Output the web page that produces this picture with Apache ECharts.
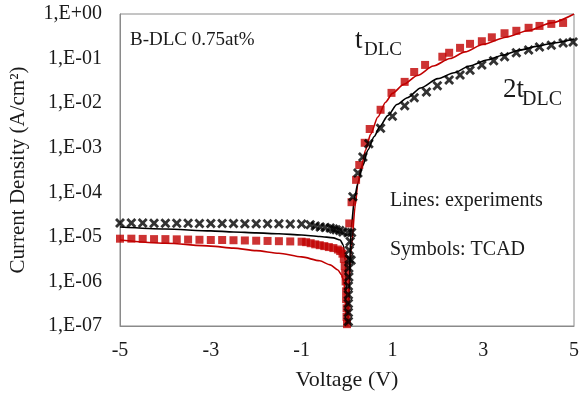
<!DOCTYPE html>
<html>
<head>
<meta charset="utf-8">
<script src="https://cdn.jsdelivr.net/npm/echarts@6/dist/echarts.min.js"></script>
<style>html,body{margin:0;padding:0;background:#fff}#c{width:582px;height:397px}</style>
</head>
<body>
<div id="c"></div>
<script>
// x tick labels shown
const xTickLabels = [-5, -3, -1, 1, 3, 5];

// Experiment t_DLC (red line)
const redLineV = [-5.0, -4.0, -3.0, -2.5, -2.0, -1.5, -1.0, -0.6, -0.37, -0.2, -0.12, -0.07, -0.04, -0.025,
  0.0, 0.1, 0.18, 0.24, 0.31, 0.41, 0.52, 0.68, 0.85, 1.0, 1.25, 1.55, 1.9, 2.27, 2.6, 3.0, 3.5, 4.0, 4.5, 5.0];
const redLineJ = [8.5e-6, 7.2e-6, 6.2e-6, 5.6e-6, 4.9e-6, 4.3e-6, 3.55e-6, 2.9e-6, 2.35e-6, 1.8e-6, 1.4e-6, 1.0e-6, 5e-7, 1e-7,
  1e-7, 6.3e-6, 5e-5, 1.6e-4, 3.5e-4, 8.9e-4, 2.0e-3, 4.9e-3, 1.05e-2, 1.66e-2, 2.63e-2, 4.17e-2, 6.8e-2, 0.1, 0.141, 0.209, 0.302, 0.427, 0.631, 1.0];

// Experiment 2t_DLC (black line)
const blackLineV = [-5.0, -4.0, -3.0, -2.5, -2.0, -1.5, -1.0, -0.6, -0.3, -0.15, -0.08, -0.04, -0.01,
  0.02, 0.09, 0.17, 0.24, 0.35, 0.46, 0.6, 0.72, 0.9, 1.1, 1.33, 1.62, 2.0, 2.36, 2.7, 3.08, 3.45, 3.8, 4.2, 4.54, 5.0];
const blackLineJ = [1.66e-5, 1.5e-5, 1.36e-5, 1.29e-5, 1.23e-5, 1.17e-5, 1.1e-5, 1.02e-5, 9.5e-6, 8.5e-6, 6.5e-6, 3e-6, 5e-7,
  1e-7, 1.6e-5, 7.9e-5, 1.62e-4, 4e-4, 8.9e-4, 1.78e-3, 2.95e-3, 5.25e-3, 9.3e-3, 1.32e-2, 2.19e-2, 3.55e-2, 4.8e-2, 6.8e-2, 9.3e-2, 0.12, 0.155, 0.19, 0.224, 0.275];

// TCAD t_DLC (red squares)
const redSymV = [-5.0, -4.75, -4.5, -4.25, -4.0, -3.75, -3.5, -3.25, -3.0, -2.75, -2.5, -2.25, -2.0, -1.75, -1.5, -1.25, -1.0,
  -0.9, -0.8, -0.7, -0.6, -0.5, -0.4, -0.3, -0.2, -0.15, -0.1, -0.07, -0.05, -0.04, -0.03, -0.02, -0.02, -0.01, -0.01, 0.0,
  0.05, 0.1, 0.2, 0.27, 0.39, 0.5, 0.74, 0.98, 1.27, 1.48, 1.72, 2.1, 2.25, 2.49, 2.71, 2.97, 3.19, 3.47, 3.73, 4.0, 4.24, 4.5, 4.76];
const redSymJ = [9.1e-6, 9.1e-6, 9.0e-6, 8.9e-6, 8.9e-6, 8.8e-6, 8.7e-6, 8.6e-6, 8.5e-6, 8.5e-6, 8.4e-6, 8.3e-6, 8.2e-6, 8.1e-6, 8.0e-6, 7.9e-6, 7.8e-6,
  7.6e-6, 7.2e-6, 6.8e-6, 6.5e-6, 6.2e-6, 5.9e-6, 5.6e-6, 5.2e-6, 4.8e-6, 4.2e-6, 3.2e-6, 2.2e-6, 1.5e-6, 1e-6, 6e-7, 4e-7, 2.5e-7, 1.6e-7, 1.1e-7,
  2e-5, 6e-5, 1.9e-4, 4.1e-4, 1.29e-3, 2.63e-3, 7.1e-3, 1.7e-2, 3.0e-2, 5.0e-2, 7.2e-2, 0.11, 0.135, 0.174, 0.214, 0.245, 0.30, 0.37, 0.42, 0.49, 0.54, 0.60, 0.63];

// TCAD 2t_DLC (black crosses)
const blackSymV = [-5.0, -4.75, -4.5, -4.25, -4.0, -3.75, -3.5, -3.25, -3.0, -2.75, -2.5, -2.25, -2.0, -1.75, -1.5, -1.25, -1.0,
  -0.81, -0.7, -0.59, -0.48, -0.37, -0.3, -0.24, -0.16, -0.09, 0.02,
  0.1, 0.09, 0.07, 0.05, 0.05, 0.04, 0.04, 0.03, 0.03, 0.03, 0.03, 0.03,
  0.13, 0.24, 0.35, 0.48, 0.74, 1.0, 1.27, 1.48, 1.75, 1.99, 2.25, 2.49, 2.71, 2.97, 3.23, 3.47, 3.73, 4.0, 4.24, 4.5, 4.76, 4.98];
const blackSymJ = [2.05e-5, 2.05e-5, 2.04e-5, 2.03e-5, 2.02e-5, 2.02e-5, 2.01e-5, 2.0e-5, 2.0e-5, 2.0e-5, 1.99e-5, 1.98e-5, 1.98e-5, 1.97e-5, 1.96e-5, 1.95e-5, 1.95e-5,
  1.86e-5, 1.75e-5, 1.66e-5, 1.62e-5, 1.58e-5, 1.5e-5, 1.45e-5, 1.38e-5, 1.29e-5, 1.23e-5,
  1.26e-5, 3e-6, 7.9e-6, 5e-6, 3.2e-6, 2e-6, 1.26e-6, 7.9e-7, 5e-7, 3.2e-7, 2e-7, 1.26e-7,
  7.9e-5, 2.7e-4, 6.2e-4, 1.23e-3, 2.75e-3, 5.1e-3, 8.7e-3, 1.32e-2, 1.78e-2, 2.45e-2, 3.3e-2, 4.3e-2, 5.5e-2, 7.2e-2, 8.9e-2, 0.11, 0.135, 0.155, 0.182, 0.2, 0.224, 0.234];

const zip = (a, b) => a.map((v, i) => [v, b[i]]);
const FONT = '"Liberation Serif", "Times New Roman", serif';
const RED = '#c00000';
const crossPath = 'path://M0,2 L2,0 L5,3 L8,0 L10,2 L7,5 L10,8 L8,10 L5,7 L2,10 L0,8 L3,5 Z';

const chart = echarts.init(document.getElementById('c'), null, {renderer: 'canvas'});
chart.setOption({
  animation: false,
  backgroundColor: '#fff',
  grid: {left: 120, right: 4, top: 14, bottom: 71, show: true, borderColor: '#8a8a8a', borderWidth: 1},
  xAxis: {
    type: 'value', min: -5, max: 5, interval: 1,
    name: 'Voltage (V)', nameLocation: 'middle', nameGap: 43,
    nameTextStyle: {fontFamily: FONT, fontSize: 22, color: '#1a1a1a'},
    axisLine: {show: true, onZero: false, lineStyle: {color: '#8a8a8a'}},
    axisTick: {show: false}, splitLine: {show: false},
    axisLabel: {
      fontFamily: FONT, fontSize: 20, color: '#1a1a1a', margin: 15,
      formatter: v => xTickLabels.indexOf(Math.round(v)) >= 0 && Math.abs(v - Math.round(v)) < 1e-9 ? String(Math.round(v)) : ''
    }
  },
  yAxis: {
    type: 'log', logBase: 10, min: 1e-7, max: 1,
    name: 'Current Density (A/cm\u00b2)', nameLocation: 'middle', nameGap: 91,
    nameTextStyle: {fontFamily: FONT, fontSize: 21, color: '#1a1a1a'},
    axisLine: {show: true, onZero: false, lineStyle: {color: '#8a8a8a'}},
    axisTick: {show: false}, splitLine: {show: false}, minorTick: {show: false},
    axisLabel: {
      fontFamily: FONT, fontSize: 20, color: '#1a1a1a', margin: 18,
      formatter: v => {
        const e = Math.round(Math.log10(v));
        const a = Math.abs(e);
        return '1,E' + (e >= 0 ? '+' : '-') + (a < 10 ? '0' : '') + a;
      }
    }
  },
  series: [
    {type: 'line', data: zip(redLineV, redLineJ), showSymbol: false, smooth: 0.25, smoothMonotone: 'x',
      lineStyle: {color: RED, width: 1.6}, z: 2},
    {type: 'line', data: zip(blackLineV, blackLineJ), showSymbol: false, smooth: 0.25, smoothMonotone: 'x',
      lineStyle: {color: '#000', width: 1.6}, z: 2},
    {type: 'scatter', data: zip(redSymV, redSymJ), symbol: 'rect', symbolSize: 8,
      itemStyle: {color: RED}, z: 3},
    {type: 'scatter', data: zip(blackSymV, blackSymJ), symbol: crossPath, symbolSize: 10,
      itemStyle: {color: '#000'}, z: 4}
  ],
  graphic: [
    {type: 'text', left: 130, top: 31, style: {text: 'B-DLC 0.75at%', font: '19px ' + FONT, fill: '#1a1a1a'}},
    {type: 'text', left: 355, top: 27, style: {text: 't', font: '27px ' + FONT, fill: '#1a1a1a'}},
    {type: 'text', left: 364, top: 41, style: {text: 'DLC', font: '19px ' + FONT, fill: '#1a1a1a'}},
    {type: 'text', left: 503, top: 76, style: {text: '2t', font: '27px ' + FONT, fill: '#1a1a1a'}},
    {type: 'text', left: 522, top: 90, style: {text: 'DLC', font: '20px ' + FONT, fill: '#1a1a1a'}},
    {type: 'text', left: 390, top: 191, style: {text: 'Lines: experiments', font: '20px ' + FONT, fill: '#1a1a1a'}},
    {type: 'text', left: 390, top: 240, style: {text: 'Symbols: TCAD', font: '20px ' + FONT, fill: '#1a1a1a'}}
  ]
});
</script>
</body>
</html>
